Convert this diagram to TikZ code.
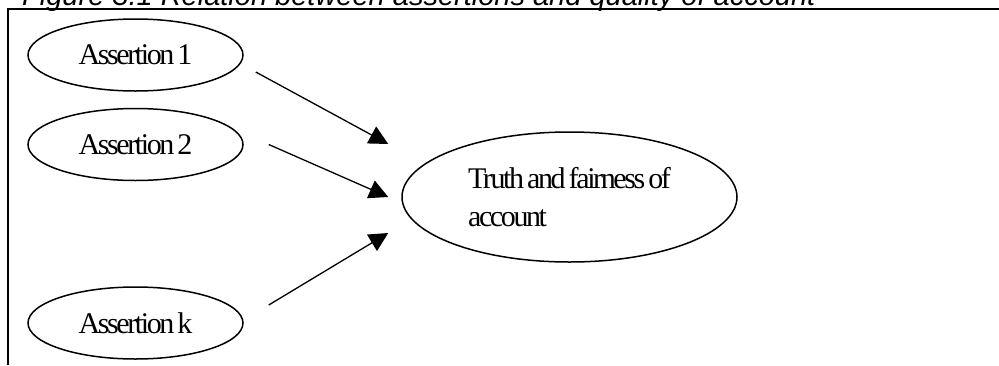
\documentclass[tikz,border=0pt]{standalone}
\usepackage{fontspec}
\setmainfont{Liberation Serif}
\newfontfamily\figfont{Liberation Sans}
\newfontfamily\boxfont[LetterSpace=-8,WordSpace=0.6]{Liberation Serif}
\usetikzlibrary{shapes,arrows.meta}
\tikzstyle{assertion} = [ellipse, draw, line width=1.5pt, minimum width=215pt,
    minimum height=72pt, inner sep=0pt, font=\boxfont\fontsize{30}{38}\selectfont]
\tikzstyle{quality} = [assertion, minimum width=335pt, minimum height=130pt,
    align=left]
\tikzstyle{line} = [draw, line width=1.3pt, -{Triangle[length=19pt,width=19pt]}]

\begin{document}
\begin{tikzpicture}[x=1pt, y=-1pt]
 \useasboundingbox (0,0) rectangle (999,365);
 % caption and frame
 \node[anchor=base west, inner sep=0pt, font=\figfont\itshape\fontsize{29}{34}\selectfont] (caption) at (22,5) {Figure 3.1 Relation between assertions and quality of account};
 \draw[line width=2pt] (8,365) -- (8,8.5) -- (999,8.5);

 \node[assertion] (a1) at (135.5,55) {Assertion 1};
 \node[assertion] (a2) at (135.5,144.5) {Assertion 2};
 \node[assertion] (ak) at (135.5,323) {Assertion k};
 \node[quality] (truth) at (569.5,197) {Truth and fairness of\\account};

 \coordinate (from1) at ([shift={(12,17)}]a1.east);
 \coordinate (from2) at ([shift={(25,0)}]a2.east);
 \coordinate (from3) at ([shift={(25,-18)}]ak.east);
 \coordinate (to1) at ([shift={(-13,-53)}]truth.west);
 \coordinate (to2) at ([shift={(-13,0)}]truth.west);
 \coordinate (to3) at ([shift={(-13,36)}]truth.west);

\path[line] (from1) -- (to1);
\path[line] (from2) -- (to2);
\path[line] (from3) -- (to3);
\end{tikzpicture}
\end{document}
